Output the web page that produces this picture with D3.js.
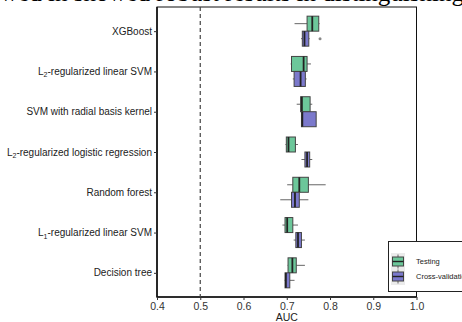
<!DOCTYPE html>
<html>
<head>
<meta charset="utf-8">
<script src="https://cdn.jsdelivr.net/npm/d3@7"></script>
<style>
  html, body { margin: 0; padding: 0; background: #fff; overflow: hidden; }
  svg { display: block; font-family: "Liberation Sans", Arial, sans-serif; }
</style>
</head>
<body>
<div id="chart"></div>
<script>
// Categories, top to bottom. Each label: [main text, subscript, rest]
const categories = [
  ['XGBoost', '', ''],
  ['L', '2', '-regularized linear SVM'],
  ['SVM with radial basis kernel', '', ''],
  ['L', '2', '-regularized logistic regression'],
  ['Random forest', '', ''],
  ['L', '1', '-regularized linear SVM'],
  ['Decision tree', '', '']
];
const seriesNames = ['Testing', 'Cross-validation'];

// [lower whisker, Q1, median, Q3, upper whisker]
const testingStats = [
  [0.718, 0.747, 0.759, 0.774, 0.776],
  [0.709, 0.711, 0.739, 0.747, 0.756],
  [0.723, 0.732, 0.735, 0.754, 0.759],
  [0.697, 0.699, 0.704, 0.720, 0.726],
  [0.701, 0.714, 0.729, 0.750, 0.790],
  [0.690, 0.696, 0.701, 0.714, 0.726],
  [0.702, 0.703, 0.713, 0.722, 0.742]
];
const cvStats = [
  [0.733, 0.736, 0.741, 0.751, 0.753],
  [0.714, 0.717, 0.732, 0.743, 0.746],
  [0.734, 0.734, 0.736, 0.768, 0.768],
  [0.734, 0.742, 0.747, 0.753, 0.759],
  [0.685, 0.711, 0.719, 0.729, 0.750],
  [0.716, 0.721, 0.726, 0.734, 0.742],
  [0.695, 0.696, 0.698, 0.707, 0.718]
];
// outliers: [category index, series index, value]
const outliers = [[0, 1, 0.777]];
const xTicks = [0.4, 0.5, 0.6, 0.7, 0.8, 0.9, 1.0];
const refLine = 0.5;

const colors = ['#6cc79a', '#7b79cc'];
const width = 462, height = 322;
const pLeft = 157, pRight = 416.5, pTop = 7, pBottom = 297;

const svg = d3.select('#chart').append('svg')
  .attr('width', width).attr('height', height);

// clipped line of body text from the page above the figure
svg.append('text')
  .attr('x', 464).attr('y', 0.5)
  .attr('text-anchor', 'end')
  .style('font-family', '"Liberation Serif", "Times New Roman", serif')
  .style('font-size', '25px')
  .style('fill', '#000')
  .text('wed in showed robust results in distinguishing');

const x = d3.scaleLinear().domain([0.4, 1.0]).range([pLeft, pRight]);
const y = d3.scalePoint().domain(d3.range(categories.length)).range([pTop, pBottom]).padding(0.6);
const half = 15;

// frame
svg.append('rect')
  .attr('x', pLeft).attr('y', pTop)
  .attr('width', pRight - pLeft).attr('height', pBottom - pTop)
  .attr('fill', 'none').attr('stroke', '#111').attr('stroke-width', 1);
svg.append('line').attr('x1', pLeft).attr('x2', pLeft).attr('y1', pTop).attr('y2', pBottom + 0.5)
  .attr('stroke', '#111').attr('stroke-width', 1.6);
svg.append('line').attr('x1', pLeft).attr('x2', pRight).attr('y1', pBottom).attr('y2', pBottom)
  .attr('stroke', '#111').attr('stroke-width', 1.6);

// reference line
svg.append('line')
  .attr('x1', x(refLine)).attr('x2', x(refLine))
  .attr('y1', pTop).attr('y2', pBottom)
  .attr('stroke', '#444').attr('stroke-width', 1.2)
  .attr('stroke-dasharray', '4,3');

// x axis
const xAxis = svg.append('g')
  .attr('transform', `translate(0,${pBottom})`)
  .call(d3.axisBottom(x).tickValues(xTicks).tickFormat(d3.format('.1f')).tickSize(3).tickPadding(3));
xAxis.select('.domain').remove();
xAxis.selectAll('line').attr('stroke', '#333');
xAxis.selectAll('text').style('font-size', '10.5px').style('fill', '#333')
  .style('font-family', '"Liberation Sans", Arial, sans-serif');

svg.append('text')
  .attr('x', (pLeft + pRight) / 2).attr('y', 321)
  .attr('text-anchor', 'middle')
  .style('font-size', '10.5px').style('fill', '#222')
  .text('AUC');

// y axis
const yAxis = svg.append('g')
  .attr('transform', `translate(${pLeft},0)`)
  .call(d3.axisLeft(y).tickSize(3).tickFormat(''));
yAxis.select('.domain').remove();
yAxis.selectAll('line').attr('stroke', '#333');

const labels = svg.append('g');
categories.forEach((c, i) => {
  const t = labels.append('text')
    .attr('x', pLeft - 5).attr('y', y(i) + 3.5)
    .attr('text-anchor', 'end')
    .style('font-size', '10px').style('fill', '#222');
  t.append('tspan').text(c[0]);
  if (c[1]) {
    t.append('tspan').attr('dy', 2.5).style('font-size', '7px').text(c[1]);
    t.append('tspan').attr('dy', -2.5).text(c[2]);
  }
});

// boxes
const allStats = [testingStats, cvStats];
const plot = svg.append('g');
allStats.forEach((stats, s) => {
  stats.forEach((d, i) => {
    const y0 = s === 0 ? y(i) - half : y(i);
    const yc = y0 + half / 2;
    const g = plot.append('g');
    g.append('line')
      .attr('x1', x(d[0])).attr('x2', x(d[1])).attr('y1', yc).attr('y2', yc)
      .attr('stroke', '#666').attr('stroke-width', 1);
    g.append('line')
      .attr('x1', x(d[3])).attr('x2', x(d[4])).attr('y1', yc).attr('y2', yc)
      .attr('stroke', '#666').attr('stroke-width', 1);
    g.append('rect')
      .attr('x', x(d[1])).attr('y', y0)
      .attr('width', x(d[3]) - x(d[1])).attr('height', half)
      .attr('fill', colors[s]).attr('stroke', '#444').attr('stroke-width', 1);
    g.append('line')
      .attr('x1', x(d[2])).attr('x2', x(d[2])).attr('y1', y0).attr('y2', y0 + half)
      .attr('stroke', '#222').attr('stroke-width', 1.8);
  });
});
outliers.forEach(o => {
  const y0 = o[1] === 0 ? y(o[0]) - half : y(o[0]);
  plot.append('circle')
    .attr('cx', x(o[2])).attr('cy', y0 + half / 2).attr('r', 1.5)
    .attr('fill', '#888');
});

// legend
const legend = svg.append('g');
legend.append('rect')
  .attr('x', 388.5).attr('y', 241.5).attr('width', 80).attr('height', 50)
  .attr('fill', '#fff').attr('stroke', '#222').attr('stroke-width', 1);
legend.append('rect')
  .attr('x', 391).attr('y', 253).attr('width', 14).attr('height', 32)
  .attr('fill', '#ebebeb');
seriesNames.forEach((name, s) => {
  const cy = 261.5 + s * 15;
  legend.append('line')
    .attr('x1', 398).attr('x2', 398).attr('y1', cy - 7).attr('y2', cy + 7)
    .attr('stroke', '#666');
  legend.append('rect')
    .attr('x', 392.5).attr('y', cy - 4.5).attr('width', 11).attr('height', 9)
    .attr('fill', colors[s]).attr('stroke', '#444');
  legend.append('line')
    .attr('x1', 392.5).attr('x2', 403.5).attr('y1', cy).attr('y2', cy)
    .attr('stroke', '#222').attr('stroke-width', 1.4);
  legend.append('text')
    .attr('x', 416).attr('y', cy + 2.5)
    .style('font-size', '7.5px').style('fill', '#222')
    .text(name);
});
</script>
</body>
</html>
